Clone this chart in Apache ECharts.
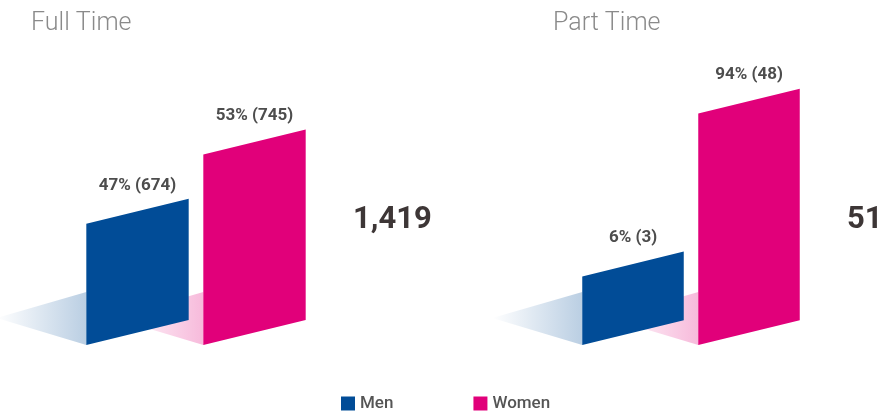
<!DOCTYPE html>
<html>
<head>
<meta charset="utf-8">
<script src="https://cdn.jsdelivr.net/npm/echarts@6/dist/echarts.min.js"></script>
<style>
  html, body { margin: 0; padding: 0; background: #fff; }
  #chart { width: 883px; height: 414px; }
</style>
</head>
<body>
<div id="chart"></div>
<script>
// Headcount by employment type, split by gender
const panels = ['Full Time', 'Part Time'];
const genders = ['Men', 'Women'];
const menPct = [47, 6];
const womenPct = [53, 94];
const menCount = [674, 3];
const womenCount = [745, 48];
const totals = [1419, 51];

const COLORS = { Men: '#014c97', Women: '#e1007a' };
const SHADE = { Men: '1,76,151', Women: '225,0,122' };
const FONT = 'Roboto, "Noto Sans", sans-serif';

// each panel has its own hidden value axis
const axisRange = [
  { min: 36.5, max: 62.5 },
  { min: -31, max: 131 }
];
const gridBoxes = [
  { left: 79, width: 234, top: 45, height: 300 },
  { left: 575, width: 232, top: 45, height: 300 }
];

function makeRender(panel, gender) {
  const counts = gender === 'Men' ? menCount : womenCount;
  return function (params, api) {
    const idx = api.value(0);
    const v = api.value(1);
    const top = api.coord([idx, v]);
    const base = api.coord([idx, axisRange[panel].min]);
    const w = api.size([1, 0])[0] * 0.875;
    const rise = w * 0.245;
    const x0 = top[0] - w / 2;
    const yb = base[1];
    const yt = top[1];
    return {
      type: 'group',
      children: [
        {
          type: 'polygon',
          z2: 1,
          shape: { points: [[x0 - 90, yb - 27], [x0, yb - 53], [x0, yb]] },
          style: {
            fill: new echarts.graphic.LinearGradient(0, 0, 1, 0, [
              { offset: 0, color: 'rgba(' + SHADE[gender] + ',0)' },
              { offset: 1, color: 'rgba(' + SHADE[gender] + ',0.27)' }
            ])
          }
        },
        {
          type: 'polygon',
          z2: 10,
          shape: { points: [[x0, yb], [x0, yt], [x0 + w, yt - rise], [x0 + w, yb - rise]] },
          style: { fill: COLORS[gender] }
        },
        {
          type: 'text',
          z2: 10,
          style: {
            x: x0 + w / 2,
            y: yt - rise / 2 - 26,
            text: v + '% (' + counts[panel] + ')',
            align: 'center',
            verticalAlign: 'middle',
            fill: '#4d4d4d',
            font: 'bold 17px ' + FONT
          }
        }
      ]
    };
  };
}

const series = [];
panels.forEach((p, pi) => {
  genders.forEach((g, gi) => {
    const vals = g === 'Men' ? menPct : womenPct;
    series.push({
      type: 'custom',
      name: g,
      xAxisIndex: pi,
      yAxisIndex: pi,
      itemStyle: { color: COLORS[g] },
      data: [[gi, vals[pi]]],
      renderItem: makeRender(pi, g),
      silent: true
    });
  });
});

const chart = echarts.init(document.getElementById('chart'), null, { renderer: 'canvas' });
chart.setOption({
  animation: false,
  backgroundColor: '#fff',
  title: panels.map((p, i) => ({
    text: p,
    left: i === 0 ? 31 : 553,
    top: 11,
    padding: 0,
    textStyle: { fontFamily: FONT, fontWeight: 300, fontSize: 25, color: '#8a8a8a' }
  })),
  legend: {
    data: genders,
    left: 341,
    top: 395,
    padding: 0,
    icon: 'rect',
    itemWidth: 14,
    itemHeight: 14,
    itemGap: 80,
    textStyle: { fontFamily: FONT, fontSize: 17, fontWeight: 500, color: '#555' },
    selectedMode: false
  },
  grid: gridBoxes,
  xAxis: gridBoxes.map((g, i) => ({
    type: 'category', gridIndex: i, data: genders, show: false
  })),
  yAxis: axisRange.map((r, i) => ({
    type: 'value', gridIndex: i, min: r.min, max: r.max, show: false
  })),
  graphic: totals.map((t, i) => ({
    type: 'text',
    left: i === 0 ? 353 : 847,
    top: 205,
    style: {
      text: t.toLocaleString('en-US'),
      font: 'bold 31px ' + FONT,
      fill: '#3d3636'
    }
  })),
  series: series
});
</script>
</body>
</html>
